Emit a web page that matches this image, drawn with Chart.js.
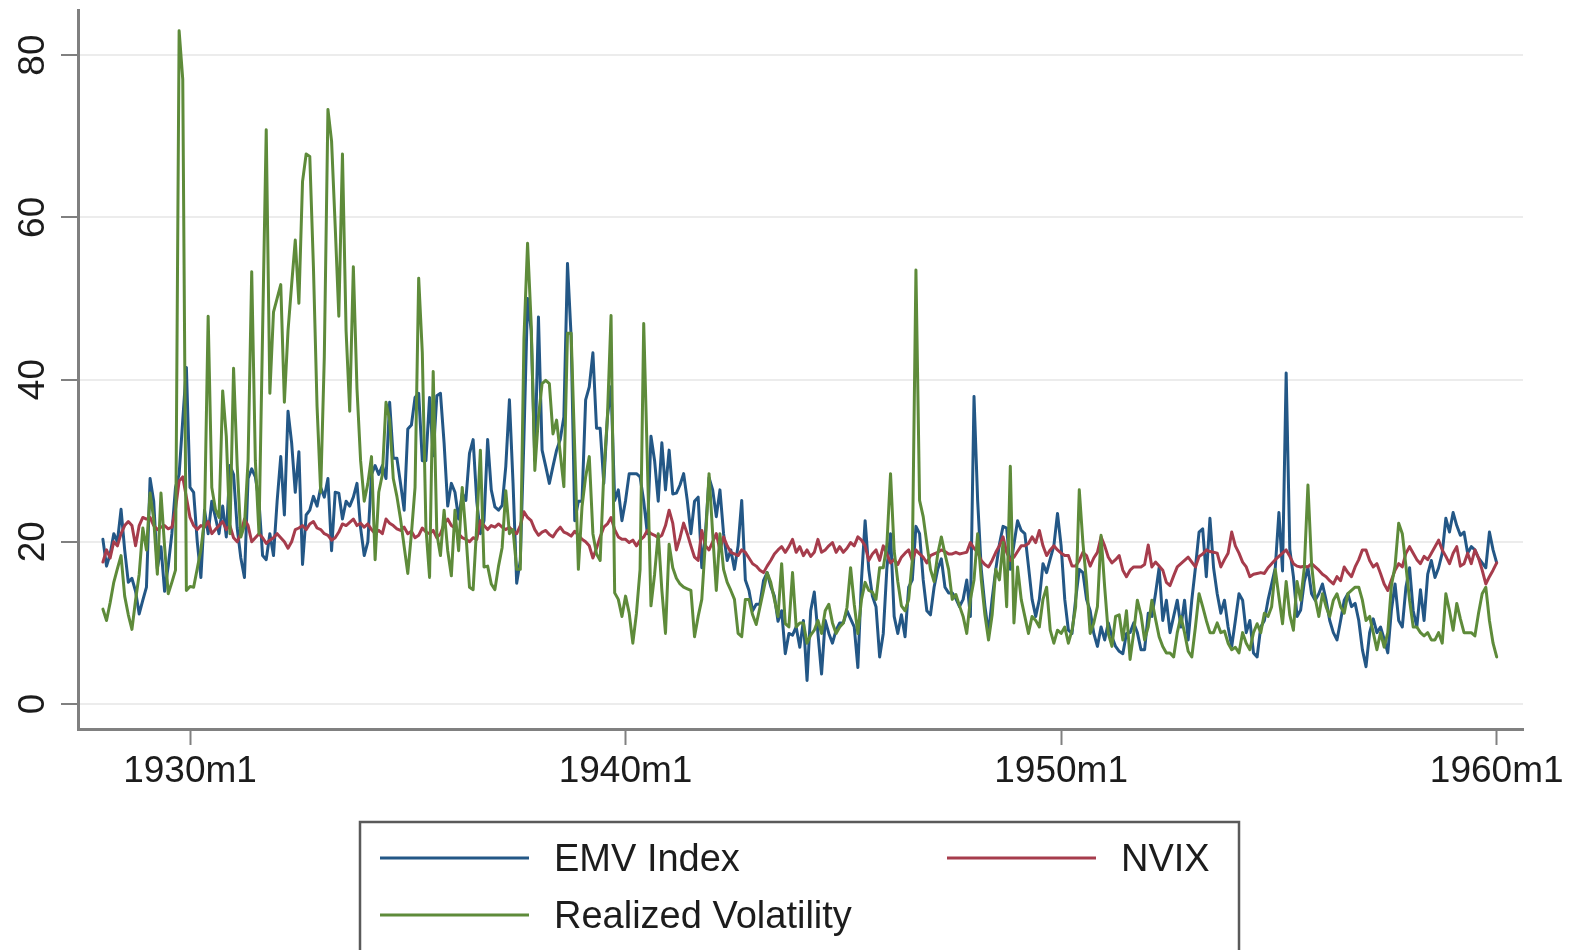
<!DOCTYPE html>
<html>
<head>
<meta charset="utf-8">
<script src="https://cdn.jsdelivr.net/npm/chart.js@4.4.0/dist/chart.umd.min.js"></script>
<style>
html,body{margin:0;padding:0;background:#ffffff;}
#wrap{width:1577px;height:950px;}
</style>
</head>
<body>
<div id="wrap"><canvas id="c" width="1577" height="950"></canvas></div>
<script>
// ---- data (monthly, first value = startMonth) ----
const seriesLabels = ['EMV Index', 'NVIX', 'Realized Volatility'];
const startMonth = '1928m1';
const xTickLabels = ['1930m1', '1940m1', '1950m1', '1960m1'];
const yTickValues = [0, 20, 40, 60, 80];

const emv = [
  20.3,17,18.5,21,20,24,19,15,15.5,13.9,11.1,12.8,          // 1928
  14.4,27.8,25,16.7,19.4,13.9,17,21,26.7,28.3,35,41.5,      // 1929
  26.7,26.1,20,15.6,23.9,21,25,23,21,24.4,20.6,29.4,        // 1930
  28.3,21.7,18,15.6,27.8,29,28,25,18.3,17.8,21,18.3,        // 1931
  25,30.5,23.3,36.1,32.2,26.1,31.1,17.2,23.3,23.9,25.6,24.4,// 1932
  26.7,25.5,27.8,18.9,26.1,26,22.8,25,24.4,25.5,27.2,21.7,  // 1933
  18.3,20,28.3,29.4,28.3,29.4,27.8,37.2,30.3,30.3,27.2,23.9,// 1934
  33.9,34.4,37.8,38.3,30,30,37.8,30.6,38,38.3,32.2,24.4,    // 1935
  27.2,26.1,22.8,26,25.1,30.9,32.6,25,21,22.6,32.6,26.4,    // 1936
  24.3,23.9,24.5,29.3,37.5,27.2,14.9,17.7,32.8,50,46,30,    // 1937
  47.7,31.3,29.3,27.2,29.3,31.3,32.6,35.4,54.3,45.3,22.6,25,// 1938
  25,37.5,39.1,43.3,34,34,27.2,35.4,39.1,25.1,26.4,22.6,    // 1939
  25.1,28.4,28.4,28.4,28,25,21,33,30,25,32.2,26.4,          // 1940
  31.3,25.9,26,27,28.4,25.1,21,25,25.5,16.8,21,27.9,        // 1941
  26.4,23.1,26.4,21,17.7,19,16.6,19.5,25.1,15.3,14,11.5,    // 1942
  12.3,12.3,15.2,16.2,14.5,13.3,10.2,11.5,6.2,8.7,8.5,9.5,  // 1943
  7,10.3,2.9,11.5,13.8,8.7,3.7,10.3,8.7,7.5,9.1,10,         // 1944
  10,11.5,10.5,9.5,4.5,15.3,22.6,16.6,13.3,12,5.8,8.7,      // 1945
  16.8,21,10.8,8.7,11,8.3,14.4,15.3,21.9,21,15.3,11.5,      // 1946
  11,14.4,16.6,17.9,14.4,13.7,13.7,13,12,12.9,15.3,10.8,    // 1947
  37.9,25.1,16.6,12.1,8.7,13,16.6,19.7,21.9,21.7,16.6,19.7, // 1948
  22.6,21.4,21,17,12.9,10.8,12.9,17.3,16.2,17.9,19.5,23.5,  // 1949
  19.5,12.9,9.1,8.7,12.9,16.6,16.2,12.9,11.5,8.7,7.1,9.5,   // 1950
  7.9,10,8.3,7.1,6.5,6.2,8.7,8.8,10,8.8,6.7,6.7,            // 1951
  11.2,10.8,13.6,16.8,10.3,12.8,8.8,10.8,12.8,9.5,12.8,7.9, // 1952
  12.8,16.8,21.2,21.6,15.7,22.9,16.8,13.6,11.2,12.8,9.5,7.1,// 1953
  10.3,13.6,12.8,8.8,10.3,6.3,5.8,9.5,10.3,12.8,14.8,16.8,  // 1954
  23.6,16.4,40.8,19.1,15.7,10.8,11.6,15.1,16.8,13.6,12.8,13.6,// 1955
  14.8,12.8,10.3,8.8,7.9,10.3,12.8,13.6,12,12.4,10.3,6.7,   // 1956
  4.6,8.8,10.5,8.8,9.5,8,6.3,11.6,14.8,10.3,9.5,14.4,       // 1957
  16.8,11.5,9.5,14.1,10.3,16,17.7,15.6,16.8,18.6,22.9,21.2, // 1958
  23.6,22,20.8,21.2,18.6,19.4,19,18,17.4,16.8,21.2,19,      // 1959
  17.4                                                      // 1960m1
];

const nvix = [
  17.5,19,18,20,19.5,21,22,22.5,22,19.5,22,23,
  22.8,23,22,21.5,21.8,22,21.6,21.8,24,27.5,28,25.5,
  23,22,21.5,22,21.8,22.5,21,21.5,22,22.5,21.5,22,
  20.5,20,21,22.8,22,20,20.5,21,20.5,19.8,20.2,20.5,
  21,20.5,20,19.2,20,21.5,21.7,22,21.5,22.2,22.5,21.7,
  21.5,21,20.8,20.2,20.5,21.2,22.2,22,22.4,22.8,22,22.3,
  21.8,22.2,21.5,21,21.4,21,22.8,22.3,22,21.6,21.4,21.8,
  21,21.3,20.5,20.8,21.7,21.2,21,21.4,20.5,21,22.2,22.8,
  22,21.7,21,20.5,20.3,20,20.5,20.3,22.6,22,21.5,22,
  21.8,22.2,21.8,21.5,21.8,21.3,21,22,23.7,23,22.6,21.5,
  20.8,21.2,21.4,20.9,20.6,21.3,21.8,21.2,21,20.7,21.3,20.8,
  20.3,20,19.5,18,19.2,20.6,21.8,22.2,23,21.5,20.6,20.3,
  20.3,19.9,20.2,19.5,20.2,20.6,21.4,21,20.8,20.5,20.8,22,
  23.9,22.3,19,20.5,22.3,21,19.5,18.1,17.7,21.4,19.5,19,
  20,21,19,20.6,19.5,18.7,18.5,18.3,19,18.7,18,17.3,
  17,16.5,16.2,17,17.7,18.5,19,19.4,18.7,19.4,20.3,18.7,
  19.4,18.3,19,18.2,18.7,20.3,18.7,19,19.5,19.9,18.7,19.4,
  18.7,19.2,19.9,19.5,20.6,20.2,19.5,17.7,18.5,19,17.7,19.5,
  18.5,17.4,17.8,17.2,18.1,18.6,19,17.7,19,18.5,18.1,17.4,
  18.3,18.5,18.7,19,18.8,18.5,18.5,18.7,18.5,18.6,18.7,19.9,
  19.2,18.7,17.7,17.2,16.9,17.7,18.7,19.5,20.6,18.7,17.7,18.1,
  18.8,19.5,19.5,19.8,20.6,19.9,21.4,19.5,18.3,19,19.5,19,
  18.6,18.3,18.3,17,17,17.7,18.7,18.3,17,18,18.7,20.6,
  19.5,18.1,17.4,17.8,18.3,16.5,15.7,16.5,16.9,16.9,16.9,17.2,
  19.6,16.9,17.5,17,16.5,15,14.6,15.8,16.9,17.3,17.7,18.1,
  17.5,16.9,18.2,18.5,19,18.8,18.7,18.6,16.9,17.8,18.6,21.2,
  19.5,18.6,17.5,16.9,15.7,16,16.1,16.2,16.1,16.8,17.3,17.8,
  18.2,18.6,19,18.2,17.3,17,16.9,17,16.9,17.3,16.9,16.5,
  16,15.7,15.2,14.8,15.7,15.2,16.9,16.2,15.7,16.9,17.8,19,
  19,17.7,16.9,17.3,16.1,14.8,14,15.3,16.5,17.3,16.9,18.6,
  19.4,18.6,17.8,17.3,18.2,17.8,18.6,19.4,20.2,19,18.2,17.3,
  18.6,19.4,17,17.3,18.6,17.3,19,18,16.5,14.8,15.7,16.5,
  17.4
];

const realizedVol = [
  11.7,10.3,12.5,15,16.7,18.3,13.3,11,9.2,12.8,16,21.7,
  19,26,22.8,16,26,19.4,13.6,15,16.5,83,77,14,
  14.5,14.4,16.7,19,22.8,47.8,26.7,24,23,38.6,33,21,
  41.4,29.4,20.6,22,30,53.3,30,21,46,70.8,38.3,48.3,
  50,51.7,37.2,46,51.7,57.2,49.4,64.4,67.8,67.5,53.9,36.7,
  26.1,42.8,73.3,69.4,58.9,47.8,67.8,46,36.1,53.9,38.9,30,
  25,27.2,30.5,17.8,26.1,28.3,37.2,35,27.8,25.6,22.8,19.4,
  16.1,21,26.7,52.5,43.3,21.7,15.6,41,21,18.3,23.9,18.9,
  15.8,23.9,18.9,26.7,21,14.4,14.1,22,31.3,16.9,17,14.8,
  14.1,17,19.3,26.3,21,21.5,16.6,16.6,45,56.8,46.8,28.8,
  35.4,39.5,39.9,39.5,33.3,35,30.9,26.8,45.7,45.7,31.3,16.6,
  24.3,28,30.5,21,18.5,17.7,28.4,35.4,47.9,13.7,12.9,10.8,
  13.3,11.2,7.5,11.2,16.6,46.9,30,12.1,16,21,14,8.7,
  19.7,16.8,15.5,14.8,14.4,14.2,14,8.3,10.8,12.9,20,28.4,
  21,14,21,16.6,15,14,12.9,8.7,8.3,12.9,12.9,11,
  9.8,11.9,14,16.2,15,12.9,10.8,17.3,9.9,9.5,16.2,9.5,
  10,10,7.5,8.5,9.1,10.3,8.7,11.5,12.3,10,8.7,9.5,
  10,11.9,16.8,12.3,8.7,12.9,15,14,13.8,12.9,16.8,16.8,
  19.7,28.4,18.9,15.1,12.1,11.5,12.9,17.7,53.5,25.1,23.1,19.8,
  16.6,15.1,18.5,20.6,18.5,16.6,12.9,13.5,12.1,10.8,8.7,12.9,
  15.3,21,15.3,11,7.9,11,16.6,15.3,19.9,12,29.3,10,
  16.9,12.9,10.8,8.7,10.8,10.3,9.5,12.9,14.4,9.1,7.5,9.1,
  8.7,9.5,7.5,9.1,12,26.4,19.9,15,8.7,10,12,20.8,
  14.4,8.7,7.1,10.8,11,7.9,11.5,5.5,8.8,12.8,11,7.9,
  9.5,12.8,10.5,8.3,7.1,6.3,6.3,5.8,8.8,10.8,8.8,6.5,
  5.8,9.5,13.6,12,10.3,8.8,8.8,10,8.8,9,7.5,6.7,
  7,6.3,8.8,7.5,6.7,8.8,9.9,8.8,11.2,10.8,12,16.6,
  13.2,9.9,15.1,11,9.1,15.1,12.8,16.8,27,17.2,13,10.8,
  13.6,12,10.8,12.8,13.6,12,11.2,13.6,14,14.4,14.4,12.8,
  10.3,10.8,8.8,6.7,8.8,7,8.8,14.6,17,22.3,21,17,
  12.8,9.5,9.5,8.8,8.4,8.8,7.9,7.9,8.8,7.5,13.6,11.5,
  9.1,12.4,10.5,8.8,8.8,8.8,8.4,11.2,13.6,14.4,10.3,7.5,
  5.8
];

const seriesColors = ['#235786', '#a63c4c', '#5e8b3a'];

// ---- helpers ----
function tm(s) { const p = s.split('m'); return (Number(p[0]) - 1960) * 12 + (Number(p[1]) - 1); }
const t0 = tm(startMonth);
const toPts = arr => arr.map((v, i) => ({ x: t0 + i, y: v }));
const xTickValues = xTickLabels.map(tm);

const FONT = "'Liberation Sans', Arial, Helvetica, sans-serif";
const TEXT = '#1c1c1c';
const AXIS = '#808080';

const stataLegend = {
  id: 'stataLegend',
  afterDraw(chart) {
    const ctx = chart.ctx;
    const ds = chart.data.datasets;
    ctx.save();
    ctx.fillStyle = '#ffffff';
    ctx.fillRect(360, 822, 879, 140);
    ctx.strokeStyle = '#5a5a5a';
    ctx.lineWidth = 2.5;
    ctx.strokeRect(360, 822, 879, 140);
    const slots = [[380, 858], [947, 858], [380, 915]];
    ctx.font = '38px ' + FONT;
    ctx.textBaseline = 'middle';
    ctx.textAlign = 'left';
    ds.forEach((d, i) => {
      const [x, y] = slots[i];
      ctx.strokeStyle = d.borderColor;
      ctx.lineWidth = 3;
      ctx.beginPath();
      ctx.moveTo(x, y);
      ctx.lineTo(x + 149, y);
      ctx.stroke();
      ctx.fillStyle = TEXT;
      ctx.fillText(d.label, x + 174, y + 3);
    });
    ctx.restore();
  }
};

const mk = (label, data, color, order) => ({
  label, data: toPts(data), borderColor: color, backgroundColor: color,
  borderWidth: 3, pointRadius: 0, tension: 0, fill: false, order,
  borderJoinStyle: 'round', borderCapStyle: 'round'
});

new Chart(document.getElementById('c').getContext('2d'), {
  type: 'line',
  data: {
    datasets: [
      mk(seriesLabels[0], emv, seriesColors[0], 3),
      mk(seriesLabels[1], nvix, seriesColors[1], 2),
      mk(seriesLabels[2], realizedVol, seriesColors[2], 1)
    ]
  },
  options: {
    responsive: false,
    animation: false,
    devicePixelRatio: 1,
    layout: { padding: { left: 0, right: 54, top: 10, bottom: 0 } },
    plugins: { legend: { display: false }, tooltip: { enabled: false } },
    scales: {
      x: {
        type: 'linear',
        min: -390.86,
        max: 7.25,
        afterBuildTicks: s => { s.ticks = xTickValues.map(v => ({ value: v })); },
        afterFit: s => { s.height = 221; s.paddingLeft = 0; s.paddingRight = 0; },
        grid: { drawOnChartArea: false, drawTicks: true, tickLength: 16, tickColor: AXIS, tickWidth: 2 },
        border: { display: true, color: AXIS, width: 3 },
        ticks: {
          autoSkip: false, maxRotation: 0, minRotation: 0, padding: 5,
          color: TEXT, font: { family: FONT, size: 37 },
          callback: v => { const k = xTickValues.indexOf(v); return k >= 0 ? xTickLabels[k] : ''; }
        }
      },
      y: {
        min: -3.08,
        max: 85.56,
        afterBuildTicks: s => { s.ticks = yTickValues.map(v => ({ value: v })); },
        afterFit: s => { s.width = 78; s.paddingTop = 0; s.paddingBottom = 0; },
        grid: { color: '#ececec', lineWidth: 2, drawTicks: true, tickLength: 17, tickColor: AXIS, tickWidth: 2 },
        border: { display: true, color: AXIS, width: 3 },
        ticks: {
          autoSkip: false, minRotation: 90, maxRotation: 90, crossAlign: 'center', padding: 7,
          color: TEXT, font: { family: FONT, size: 37 },
          callback: v => String(v)
        }
      }
    }
  },
  plugins: [stataLegend]
});
</script>
</body>
</html>
